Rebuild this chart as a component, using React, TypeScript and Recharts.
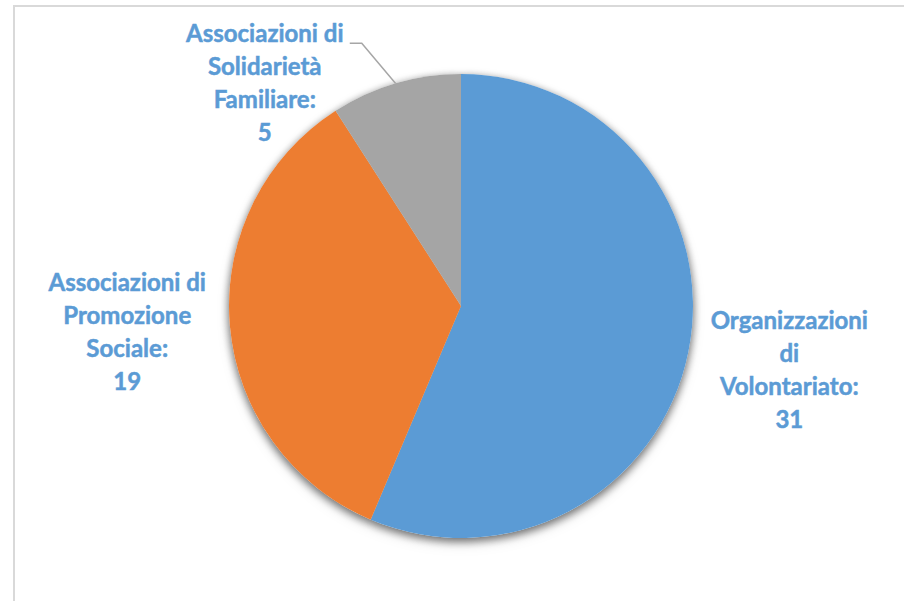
import React from "react";
import { PieChart, Pie, Cell } from "recharts";

const categories = [
  "Organizzazioni di Volontariato",
  "Associazioni di Promozione Sociale",
  "Associazioni di Solidarietà Familiare",
];

// how each label wraps in the original
const labelLines = [
  ["Organizzazioni", "di", "Volontariato:"],
  ["Associazioni di", "Promozione", "Sociale:"],
  ["Associazioni di", "Solidarietà", "Familiare:"],
];

const values = [31, 19, 5];

const colors = ["#5b9bd5", "#ed7d31", "#a5a5a5"];

const data = categories.map((name, i) => ({
  name,
  value: values[i],
  lines: labelLines[i],
}));

const RAD = Math.PI / 180;
const LINE_H = 33;

// the gray label was dragged away from the slice, with a leader line
const movedLabels: Record<number, { angle: number; radius: number }> = {
  2: { angle: 131.7, radius: 295 },
};

const renderLabel = (props: any) => {
  const { cx, cy, midAngle, outerRadius, index, payload, value } = props;
  const moved = movedLabels[index];
  const angle = moved ? moved.angle : midAngle;
  const r = moved ? moved.radius : outerRadius + 103;
  const x = cx + r * Math.cos(-angle * RAD);
  const y = cy + r * Math.sin(-angle * RAD);
  const lines: string[] = [...(payload.lines || []), String(value)];
  const firstBaseline = y - 1.5 * LINE_H + 6;

  let leader = null;
  if (moved) {
    const ex = cx + outerRadius * Math.cos(-midAngle * RAD);
    const ey = cy + outerRadius * Math.sin(-midAngle * RAD);
    const by = firstBaseline + 1;
    leader = (
      <polyline
        points={`${ex},${ey} ${x + 97},${by} ${x + 85},${by}`}
        fill="none"
        stroke="#a6a6a6"
        strokeWidth={1.5}
      />
    );
  }

  return (
    <g key={`label-${index}`}>
      {leader}
      <text
        x={x}
        y={firstBaseline}
        textAnchor="middle"
        fill="#5b9bd5"
        stroke="#5b9bd5"
        strokeWidth={0.5}
        fontFamily="Lato, 'Open Sans', sans-serif"
        fontWeight={700}
        fontSize={24}
      >
        {lines.map((t, i) => (
          <tspan key={i} x={x} dy={i === 0 ? 0 : LINE_H}>
            {t}
          </tspan>
        ))}
      </text>
    </g>
  );
};

export default function App() {
  return (
    <div
      style={{
        position: "absolute",
        left: 0,
        top: 0,
        width: 904,
        height: 601,
        overflow: "hidden",
        background: "#fff",
      }}
    >
      <style>{`.shadow-pie { filter: drop-shadow(0px 3px 4px rgba(0,0,0,0.35)); }`}</style>
      <div
        style={{
          position: "absolute",
          left: 13,
          top: 5,
          width: 1000,
          height: 1000,
          border: "2px solid #d9d9d9",
          boxSizing: "border-box",
        }}
      />
      <div style={{ position: "absolute", left: 0, top: 0 }}>
        <PieChart
          width={904}
          height={601}
          margin={{ top: 0, right: 0, bottom: 0, left: 0 }}
        >
          <Pie
            className="shadow-pie"
            data={data}
            dataKey="value"
            cx={461}
            cy={306}
            outerRadius={232}
            startAngle={90}
            endAngle={-270}
            stroke="none"
            fill="#ffffff"
            isAnimationActive={false}
            labelLine={false}
          />
          <Pie
            data={data}
            dataKey="value"
            nameKey="name"
            cx={461}
            cy={306}
            outerRadius={232}
            startAngle={90}
            endAngle={-270}
            stroke="none"
            isAnimationActive={false}
            labelLine={false}
            label={renderLabel}
          >
            {data.map((d, i) => (
              <Cell key={d.name} fill={colors[i]} />
            ))}
          </Pie>
        </PieChart>
      </div>
    </div>
  );
}
